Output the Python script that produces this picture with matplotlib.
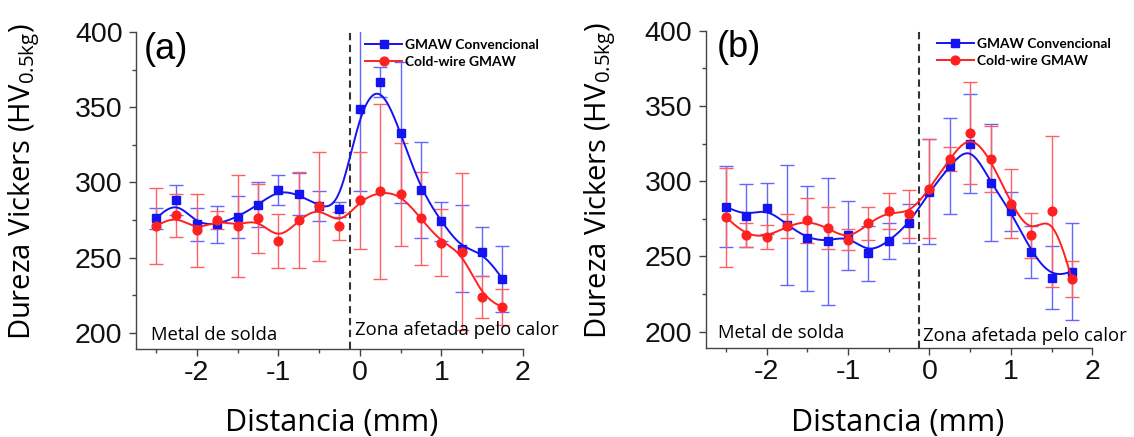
import numpy as np
import matplotlib
matplotlib.use("Agg")
import matplotlib.pyplot as plt
from matplotlib.lines import Line2D
from matplotlib.ticker import MultipleLocator

plt.rcParams['font.family'] = ['Liberation Sans', 'DejaVu Sans']
plt.rcParams['mathtext.fontset'] = 'custom'
plt.rcParams['mathtext.rm'] = 'Open Sans'
plt.rcParams['mathtext.it'] = 'Open Sans'

# ---------------- data ----------------
distance = [-2.5, -2.25, -2.0, -1.75, -1.5, -1.25, -1.0, -0.75, -0.5, -0.25,
            0.0, 0.25, 0.5, 0.75, 1.0, 1.25, 1.5, 1.75]

# panel (a)
a_conv = [276, 288, 272, 272, 277, 285, 295, 292, 284, 282,
          349, 367, 333, 295, 274, 256, 254, 236]
a_conv_err = [7, 10, 11, 12, 14, 15, 10, 14, 10, 5,
              55, 10, 47, 32, 13, 29, 16, 22]
a_cold = [271, 278, 268, 275, 271, 276, 261, 275, 284, 271,
          288, 294, 292, 276, 260, 254, 224, 217]
a_cold_err = [25, 14, 24, 6, 34, 23, 18, 32, 36, 9,
              32, 58, 34, 31, 22, 52, 14, 12]

# panel (b)
b_conv = [283, 277, 282, 271, 262, 260, 264, 252, 260, 272,
          293, 310, 325, 299, 280, 253, 236, 240]
b_conv_err = [27, 21, 17, 40, 35, 42, 23, 18, 12, 13,
              35, 32, 33, 39, 13, 17, 21, 32]
b_cold = [276, 264, 263, 270, 274, 269, 261, 272, 280, 278,
          295, 315, 332, 315, 285, 264, 280, 235]
b_cold_err = [33, 8, 8, 8, 15, 14, 7, 11, 12, 16,
              33, 8, 34, 22, 23, 15, 50, 12]

labels = ['GMAW Convencional', 'Cold-wire GMAW']
panel_tags = ['(a)', '(b)']
boundary = -0.125
xlabel = 'Distancia (mm)'
ylabel = 'Dureza Vickers (HV$_{0.5\\mathrm{kg}}$)'
region_left = 'Metal de solda'
region_right = 'Zona afetada pelo calor'

BLUE = '#1414f0'
BLUE_ERR = '#6565ff'
RED = '#ff2020'
RED_ERR = '#ff6060'


def bspline(x, y, n=40):
    """Uniform cubic B-spline with the points as control points (clamped ends)."""
    P = np.column_stack([x, y]).astype(float)
    P = np.vstack([P[0], P[0], P, P[-1], P[-1]])
    t = np.linspace(0, 1, n)
    b0 = (1 - t) ** 3 / 6
    b1 = (3 * t ** 3 - 6 * t ** 2 + 4) / 6
    b2 = (-3 * t ** 3 + 3 * t ** 2 + 3 * t + 1) / 6
    b3 = t ** 3 / 6
    out = []
    for i in range(len(P) - 3):
        seg = (np.outer(b0, P[i]) + np.outer(b1, P[i + 1]) +
               np.outer(b2, P[i + 2]) + np.outer(b3, P[i + 3]))
        out.append(seg)
    out = np.vstack(out)
    return out[:, 0], out[:, 1]


fig = plt.figure(figsize=(11.34, 4.37), dpi=100)
ax_a = fig.add_axes([0.1197, 0.2007, 0.3413, 0.7261])
ax_b = fig.add_axes([0.6223, 0.2030, 0.3409, 0.7268])

panels = [
    (ax_a, a_conv, a_conv_err, a_cold, a_cold_err),
    (ax_b, b_conv, b_conv_err, b_cold, b_cold_err),
]

layout = [
    dict(tag=(0.0196, 0.944), ylab=(-0.289, 0.529), xlab=(0.505, -0.232),
         left=(0.04, 0.045), right=(0.566, 0.06), leg=(0.5925, 0.977)),
    dict(tag=(0.028, 0.947), ylab=(-0.272, 0.529), xlab=(0.497, -0.236),
         left=(0.033, 0.048), right=(0.562, 0.038), leg=(0.5975, 0.977)),
]

for k, (ax, conv, conv_err, cold, cold_err) in enumerate(panels):
    L = layout[k]
    ax.errorbar(distance, conv, yerr=conv_err, fmt='none', ecolor=BLUE_ERR,
                elinewidth=1.0, capsize=5, capthick=1.0, zorder=2)
    ax.errorbar(distance, cold, yerr=cold_err, fmt='none', ecolor=RED_ERR,
                elinewidth=1.0, capsize=5, capthick=1.0, zorder=3)
    sx, sy = bspline(distance, conv)
    ax.plot(sx, sy, color=BLUE, lw=1.4, zorder=4)
    ax.plot(distance, conv, ls='none', marker='s', ms=5.2, color=BLUE, zorder=5)
    sx, sy = bspline(distance, cold)
    ax.plot(sx, sy, color=RED, lw=1.4, zorder=6)
    ax.plot(distance, cold, ls='none', marker='o', ms=6.3, color=RED, zorder=7)

    ax.axvline(boundary, color='#333333', lw=1.5, ls=(0, (3.5, 2.2)), zorder=1)

    ax.set_xlim(-2.75, 2.0)
    ax.set_ylim(189, 400)
    ax.xaxis.set_major_locator(MultipleLocator(1))
    ax.xaxis.set_minor_locator(MultipleLocator(0.5))
    ax.yaxis.set_major_locator(MultipleLocator(50))
    ax.yaxis.set_minor_locator(MultipleLocator(25))
    ax.spines['top'].set_visible(False)
    ax.spines['right'].set_visible(False)
    for s in ('left', 'bottom'):
        ax.spines[s].set_color('#444444')
        ax.spines[s].set_linewidth(1.0)
    ax.tick_params(which='major', direction='out', length=5, width=1.0,
                   color='#444444', labelsize=20.5, labelcolor='#111111')
    ax.tick_params(axis='x', which='major', pad=3)
    ax.tick_params(axis='y', which='major', pad=4.5)
    ax.tick_params(which='minor', direction='out', length=3, width=1.0,
                   color='#444444')
    ax.set_xticks([-2, -1, 0, 1, 2])
    ax.set_xticklabels(['-2', '-1', '0', '1', '2'])

    ax.set_xlabel(xlabel, fontsize=22, family='Open Sans', va='center')
    ax.xaxis.set_label_coords(*L['xlab'])
    ax.set_ylabel(ylabel, fontsize=21, family='Open Sans', va='center')
    ax.yaxis.set_label_coords(*L['ylab'])

    ax.text(*L['tag'], panel_tags[k], transform=ax.transAxes, fontsize=26,
            va='center', ha='left')

    ax.text(*L['left'], region_left, transform=ax.transAxes, fontsize=13.3,
            family='Open Sans', va='center', ha='left')
    ax.text(*L['right'], region_right, transform=ax.transAxes, fontsize=13.3,
            family='Open Sans', va='center', ha='left', clip_on=False)

    handles = [
        Line2D([], [], color=BLUE, lw=1.4, marker='s', ms=5.2),
        Line2D([], [], color=RED, lw=1.4, marker='o', ms=6.3),
    ]
    ax.legend(handles, labels, loc='upper left', bbox_to_anchor=L['leg'],
              frameon=False, borderpad=0.0, borderaxespad=0,
              handlelength=2.7, handletextpad=0.22, labelspacing=0.35,
              prop={'family': 'Lato', 'weight': 'bold', 'size': 9.9})

fig.savefig('out.png', dpi=100, facecolor='white')
